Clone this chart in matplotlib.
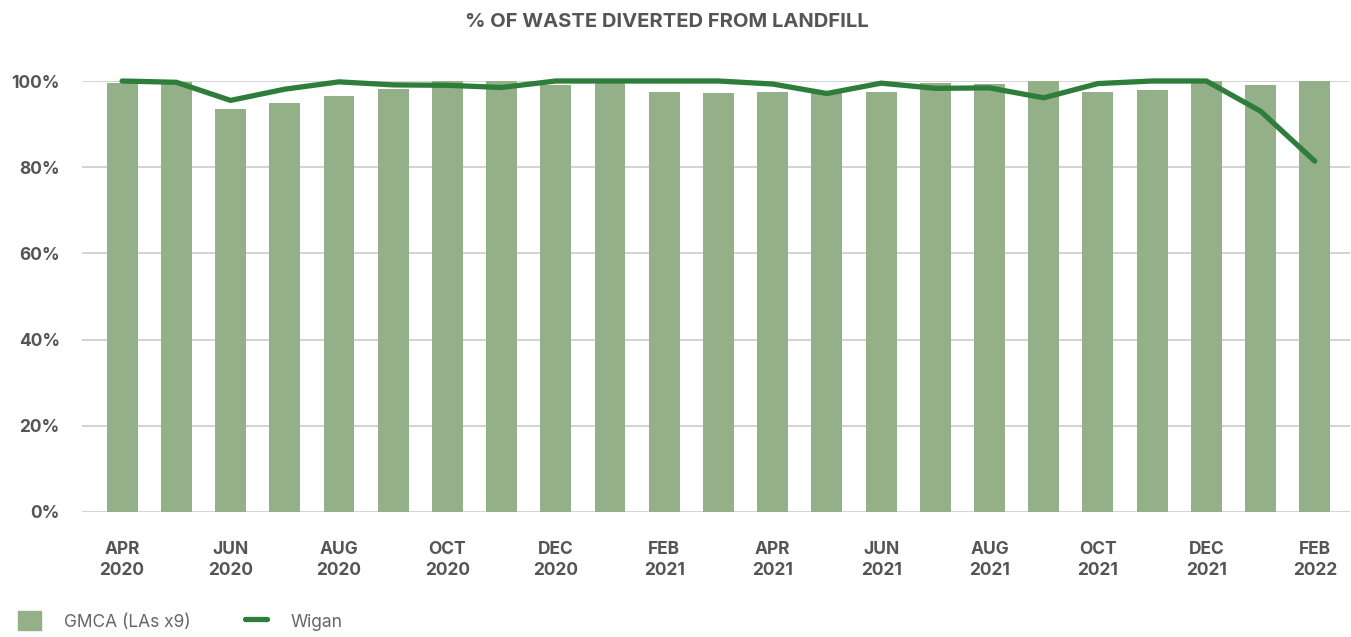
import matplotlib.pyplot as plt
import numpy as np
from matplotlib.lines import Line2D
from matplotlib.patches import Patch

plt.rcParams["font.family"] = ["Inter", "DejaVu Sans"]

# Monthly diversion rates, Apr 2020 - Feb 2022
months = ["APR\n2020", "", "JUN\n2020", "", "AUG\n2020", "", "OCT\n2020", "",
          "DEC\n2020", "", "FEB\n2021", "", "APR\n2021", "", "JUN\n2021", "",
          "AUG\n2021", "", "OCT\n2021", "", "DEC\n2021", "", "FEB\n2022"]
gmca = [99.6, 99.8, 93.5, 94.9, 96.6, 98.1, 99.9, 100.0, 99.1, 100.0, 97.4, 97.2,
        97.4, 97.5, 97.4, 99.5, 99.3, 100.0, 97.4, 98.0, 100.0, 99.1, 100.0]
wigan = [100.0, 99.7, 95.5, 98.1, 99.8, 99.1, 99.0, 98.5, 100.0, 100.0, 100.0, 100.0,
         99.3, 97.1, 99.5, 98.3, 98.4, 96.1, 99.4, 100.0, 100.0, 93.0, 81.4]
yticks = [0, 20, 40, 60, 80, 100]

BAR_COLOR = "#94B088"
LINE_COLOR = "#2E7D3A"
TEXT_COLOR = "#555555"

fig = plt.figure(figsize=(13.51, 6.37), dpi=100)
ax = fig.add_axes([82 / 1351, 1 - 512 / 637, (1350 - 82) / 1351, (512 - 81) / 637])

x = np.arange(len(months))
ax.bar(x, gmca, width=0.57, color=BAR_COLOR, zorder=2)
ax.plot(x, wigan, color=LINE_COLOR, lw=3.8, solid_capstyle="round",
        solid_joinstyle="round", zorder=3, clip_on=False)

ax.set_xlim(-0.74, len(months) - 1 + 0.65)
ax.set_ylim(0, 100)
ax.set_yticks(yticks)
ax.set_yticklabels([f"{v}%" for v in yticks], fontsize=12.5, fontweight="bold",
                   color=TEXT_COLOR)
ax.set_xticks(x)
ax.set_xticklabels(months, fontsize=12.5, fontweight="bold", color=TEXT_COLOR,
                   linespacing=1.3)
ax.tick_params(axis="both", length=0)
ax.tick_params(axis="y", pad=16)
ax.tick_params(axis="x", pad=21)
ax.yaxis.grid(True, color="#CCCCCC", lw=1.2, zorder=0)
ax.set_axisbelow(True)
for s in ax.spines.values():
    s.set_visible(False)

fig.text(667 / 1351, 1 - 22 / 637, "% OF WASTE DIVERTED FROM LANDFILL",
         ha="center", va="center", fontsize=14.5, fontweight="bold", color=TEXT_COLOR)

handles = [Patch(color=BAR_COLOR, label="GMCA (LAs x9)"),
           Line2D([], [], color=LINE_COLOR, lw=3.8, solid_capstyle="round", label="Wigan")]
fig.legend(handles=handles, loc="center left", bbox_to_anchor=(0.002, 1 - 621 / 637),
           ncol=2, frameon=False, fontsize=12.5, labelcolor="#666666",
           handlelength=1.3, handleheight=1.3, handletextpad=1.35, columnspacing=3.1)

fig.savefig("out.png", dpi=100)
